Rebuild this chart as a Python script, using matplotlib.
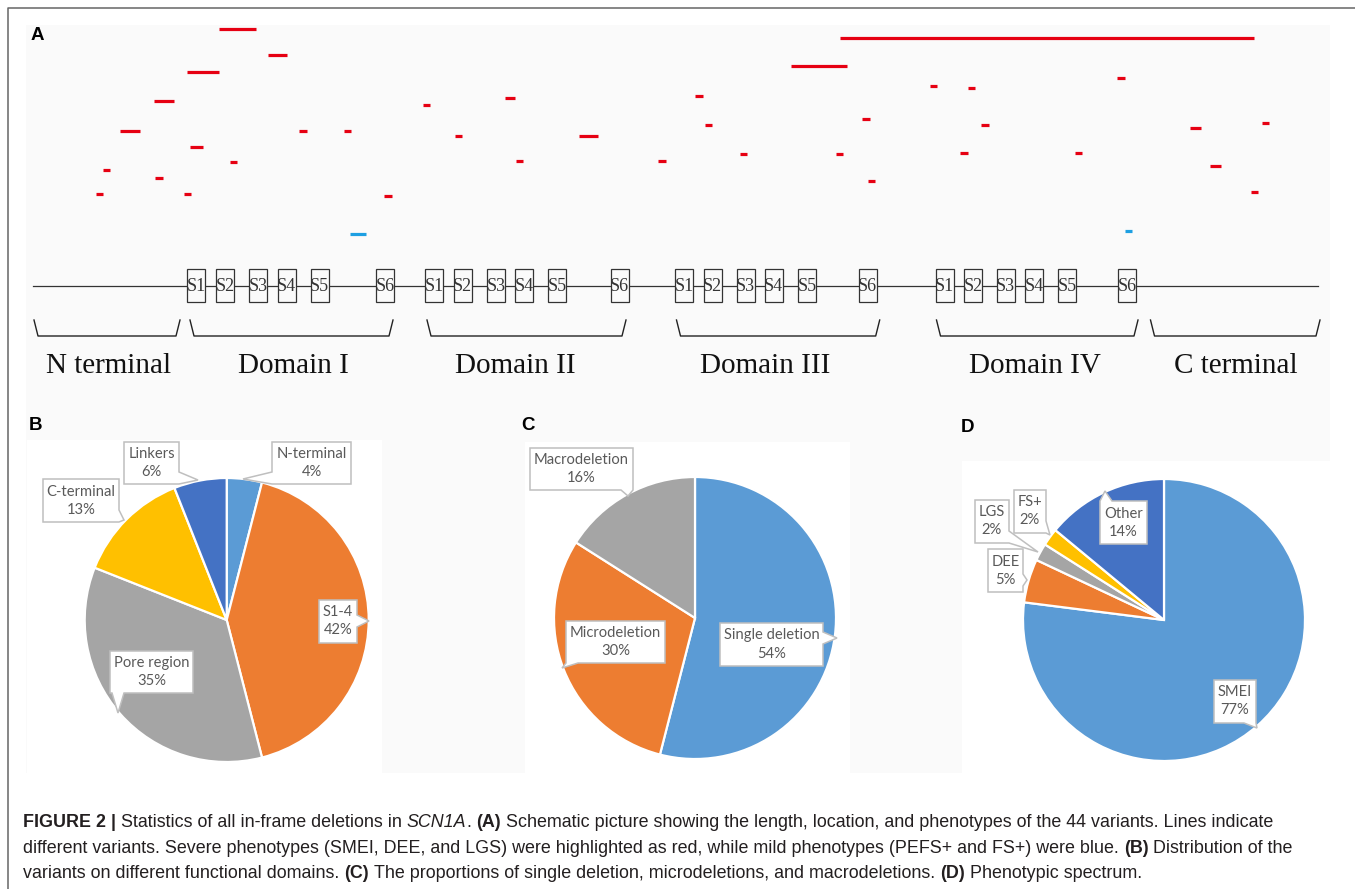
import matplotlib
matplotlib.use("Agg")
import matplotlib.pyplot as plt
from matplotlib.patches import Rectangle, Polygon

W, H = 1355, 889

# ---- panel A: in-frame deletions along SCN1A (schematic x, track y) ----
var_start = [218.6, 268, 186.5, 154, 120, 190, 102.8, 155, 95.8, 184, 230, 299, 344, 384,
             423, 455, 505, 516, 579, 658, 349.5,
             839.5, 791.4, 695.3, 705, 740, 836, 862, 868, 930, 968, 981, 960, 1074.5,
             1117, 1189.5, 1262, 1210, 1250.6, 1125]
var_end = [255.9, 287, 218.6, 173.5, 139.6, 203, 109.7, 162.6, 102.8, 191, 237, 306.6, 351, 391.6,
           430, 462, 515, 523, 597.6, 665.6, 365.6,
           1253.6, 847.4, 702.8, 712, 747, 843.4, 869.7, 875, 937, 975, 989, 967.5, 1082,
           1125, 1201, 1269.4, 1221, 1258, 1132]
var_track = [29, 55, 72, 101, 131, 147, 170, 178, 194, 194, 162, 131, 131, 196,
             105, 136, 98, 161, 136, 161, 234,
             38, 66, 96, 125, 154, 154, 119, 181, 86, 88, 125, 153, 153,
             78, 128, 123, 166, 192, 231]
var_severe = [True] * 20 + [False] + [True] * 18 + [False]

segments = ["S1", "S2", "S3", "S4", "S5", "S6"]
domain_boxes = [
    [187.3, 216, 249, 277.5, 310.5, 376],
    [425.4, 453.6, 487, 515, 548, 610.6],
    [675, 703.6, 736.8, 764.8, 798, 858.7],
    [935.6, 964, 996.8, 1025, 1058.4, 1118],
]
regions = ["N terminal", "Domain I", "Domain II", "Domain III", "Domain IV", "C terminal"]
region_span = [(34, 180), (190, 393), (427, 626), (676.5, 879.7), (936.5, 1138), (1150.5, 1320)]
region_label_x = [109, 293.6, 515, 765, 1035, 1236]

# ---- panels B-D: pie charts ----
func_labels = ["N-terminal", "S1-4", "Pore region", "C-terminal", "Linkers"]
func_pct = [4, 42, 35, 13, 6]
del_labels = ["Single deletion", "Microdeletion", "Macrodeletion"]
del_pct = [54, 30, 16]
phen_labels = ["SMEI", "DEE", "LGS", "FS+", "Other"]
phen_pct = [77, 5, 2, 2, 14]

c_lblue, c_orange, c_grey, c_gold, c_blue = "#5b9bd5", "#ed7d31", "#a5a5a5", "#ffc000", "#4472c4"

fig = plt.figure(figsize=(W / 100, H / 100), dpi=100)
ax = fig.add_axes([0, 0, 1, 1])
bg = "#fafafa"

# backgrounds
ax.add_patch(Rectangle((26, 25), 1304, 748, facecolor=bg, edgecolor="none", zorder=0))
for x0, y0, x1, y1 in [(27, 440, 382, 773), (525, 442, 850, 773), (962, 461, 1332, 773)]:
    ax.add_patch(Rectangle((x0, y0), x1 - x0, y1 - y0, facecolor="white", edgecolor="none", zorder=0))
ax.plot([8, 8, W], [H, 8, 8], color="#666666", lw=1.1, solid_capstyle="butt", zorder=1)

# panel A
ax.plot([33, 1318], [286, 286], color="#333333", lw=0.9, zorder=2)
bw, by0, by1 = 18, 269, 302
for lefts in domain_boxes:
    for name, x in zip(segments, lefts):
        ax.add_patch(Rectangle((x, by0), bw, by1 - by0, facecolor=bg, edgecolor="#333333",
                               lw=0.9, zorder=3))
        ax.text(x + bw / 2, (by0 + by1) / 2 + 1, name, ha="center", va="center",
                family="Liberation Serif", fontsize=13, color="#333333", zorder=4)

for name, (x0, x1), lx in zip(regions, region_span, region_label_x):
    ax.plot([x0, x0 + 4, x1 - 4, x1], [320, 336, 336, 320], color="#222222", lw=1.0, zorder=2)
    ax.text(lx, 373, name, ha="center", va="baseline",
            family="Liberation Serif", fontsize=21, color="#111111")

for s, e, t, sev in zip(var_start, var_end, var_track, var_severe):
    ax.hlines(t, s, e, color="#e60012" if sev else "#1d9fe2", lw=2.3, zorder=3)

# pies (y axis points down, so counterclock in data reads clockwise on screen)
wp = dict(edgecolor="white", linewidth=1.6)
ax.pie(func_pct, colors=[c_lblue, c_orange, c_grey, c_gold, c_blue], startangle=270,
       counterclock=True, center=(226.7, 620), radius=142, wedgeprops=wp)
ax.pie(del_pct, colors=[c_lblue, c_orange, c_grey], startangle=270,
       counterclock=True, center=(695, 618), radius=141, wedgeprops=wp)
ax.pie(phen_pct, colors=[c_lblue, c_orange, c_grey, c_gold, c_blue], startangle=270,
       counterclock=True, center=(1164, 620), radius=141, wedgeprops=wp)
ax.set_xlim(0, W)
ax.set_ylim(H, 0)
ax.axis("off")


def callout(cx, cy, w, h, tip, label, pct):
    x0, x1, y0, y1 = cx - w / 2, cx + w / 2, cy - h / 2, cy + h / 2
    tx, ty = tip
    b = 6
    rx, ry = (tx - cx) / (w / 2), (ty - cy) / (h / 2)
    if abs(rx) >= abs(ry):
        m = min(max(ty, y0 + b), y1 - b)
        if rx > 0:
            pts = [(x0, y0), (x1, y0), (x1, m - b), (tx, ty), (x1, m + b), (x1, y1), (x0, y1)]
        else:
            pts = [(x0, y0), (x1, y0), (x1, y1), (x0, y1), (x0, m + b), (tx, ty), (x0, m - b)]
    else:
        m = min(max(tx, x0 + b), x1 - b)
        if ry > 0:
            pts = [(x0, y0), (x1, y0), (x1, y1), (m + b, y1), (tx, ty), (m - b, y1), (x0, y1)]
        else:
            pts = [(x0, y0), (m - b, y0), (tx, ty), (m + b, y0), (x1, y0), (x1, y1), (x0, y1)]
    ax.add_patch(Polygon(pts, closed=True, facecolor="white", edgecolor="#bfbfbf",
                         lw=1.1, zorder=5))
    for dy, s in [(-9, label), (9, f"{pct}%")]:
        ax.text(cx, cy + dy, s, ha="center", va="center", family="Lato", fontsize=10.6,
                color="#595959", zorder=6)


b_boxes = [(311.5, 463, 79, 42, (243, 479)), (338, 621.5, 38, 43, (369, 621)),
           (151.5, 672, 83, 42, (118, 713)), (81, 500.5, 76, 43, (124, 520)),
           (151.5, 463, 55, 42, (198, 480))]
c_boxes = [(771.5, 644.5, 103, 43, (837, 638)), (615.5, 642, 99, 42, (562, 668)),
           (581.5, 469, 103, 42, (628, 496))]
d_boxes = [(1235, 701.5, 42, 43, (1257, 728)), (1005.5, 570.5, 35, 43, (1027, 580)),
           (992, 521.5, 34, 43, (1038, 552)), (1030, 511.5, 32, 43, (1050, 535)),
           (1123.5, 522.5, 47, 43, (1105, 491))]
for boxes, labels, pcts in [(b_boxes, func_labels, func_pct), (c_boxes, del_labels, del_pct),
                            (d_boxes, phen_labels, phen_pct)]:
    for (cx, cy, w, h, tip), lab, p in zip(boxes, labels, pcts):
        callout(cx, cy, w, h, tip, lab, p)

for letter, x, y in [("A", 37, 35), ("B", 35, 425), ("C", 528, 425), ("D", 967, 427)]:
    ax.text(x, y, letter, ha="center", va="center", family="Liberation Sans",
            fontweight="bold", fontsize=13.5, color="black")

# caption, built from styled runs
caption = [
    [("FIGURE 2 |", "bold", "normal"), (" Statistics of all in-frame deletions in ", "normal", "normal"),
     ("SCN1A", "normal", "italic"), (". ", "normal", "normal"), ("(A)", "bold", "normal"),
     (" Schematic picture showing the length, location, and phenotypes of the 44 variants. Lines indicate",
      "normal", "normal")],
    [("different variants. Severe phenotypes (SMEI, DEE, and LGS) were highlighted as red, while mild "
      "phenotypes (PEFS+ and FS+) were blue. ", "normal", "normal"), ("(B)", "bold", "normal"),
     (" Distribution of the", "normal", "normal")],
    [("variants on different functional domains. ", "normal", "normal"), ("(C)", "bold", "normal"),
     (" The proportions of single deletion, microdeletions, and macrodeletions. ", "normal", "normal"),
     ("(D)", "bold", "normal"), (" Phenotypic spectrum.", "normal", "normal")],
]
renderer = fig.canvas.get_renderer()
cap_kw = dict(family="Liberation Sans", fontsize=12.9, color="#231f20", va="baseline")


def text_width(s, weight, style):
    t = ax.text(0, 0, s, fontweight=weight, fontstyle=style, **cap_kw)
    wdt = t.get_window_extent(renderer).width
    t.remove()
    return wdt


space_w = text_width("a a", "normal", "normal") - text_width("aa", "normal", "normal")
for row, y in zip(caption, [827, 853, 878]):
    x = 23
    for s, weight, style in row:
        x += (len(s) - len(s.lstrip(" "))) * space_w
        core = s.strip(" ")
        ax.text(x, y, core, fontweight=weight, fontstyle=style, **cap_kw)
        x += text_width(core, weight, style)
        x += (len(s) - len(s.rstrip(" "))) * space_w

fig.savefig("out.png", dpi=100, facecolor="white")
